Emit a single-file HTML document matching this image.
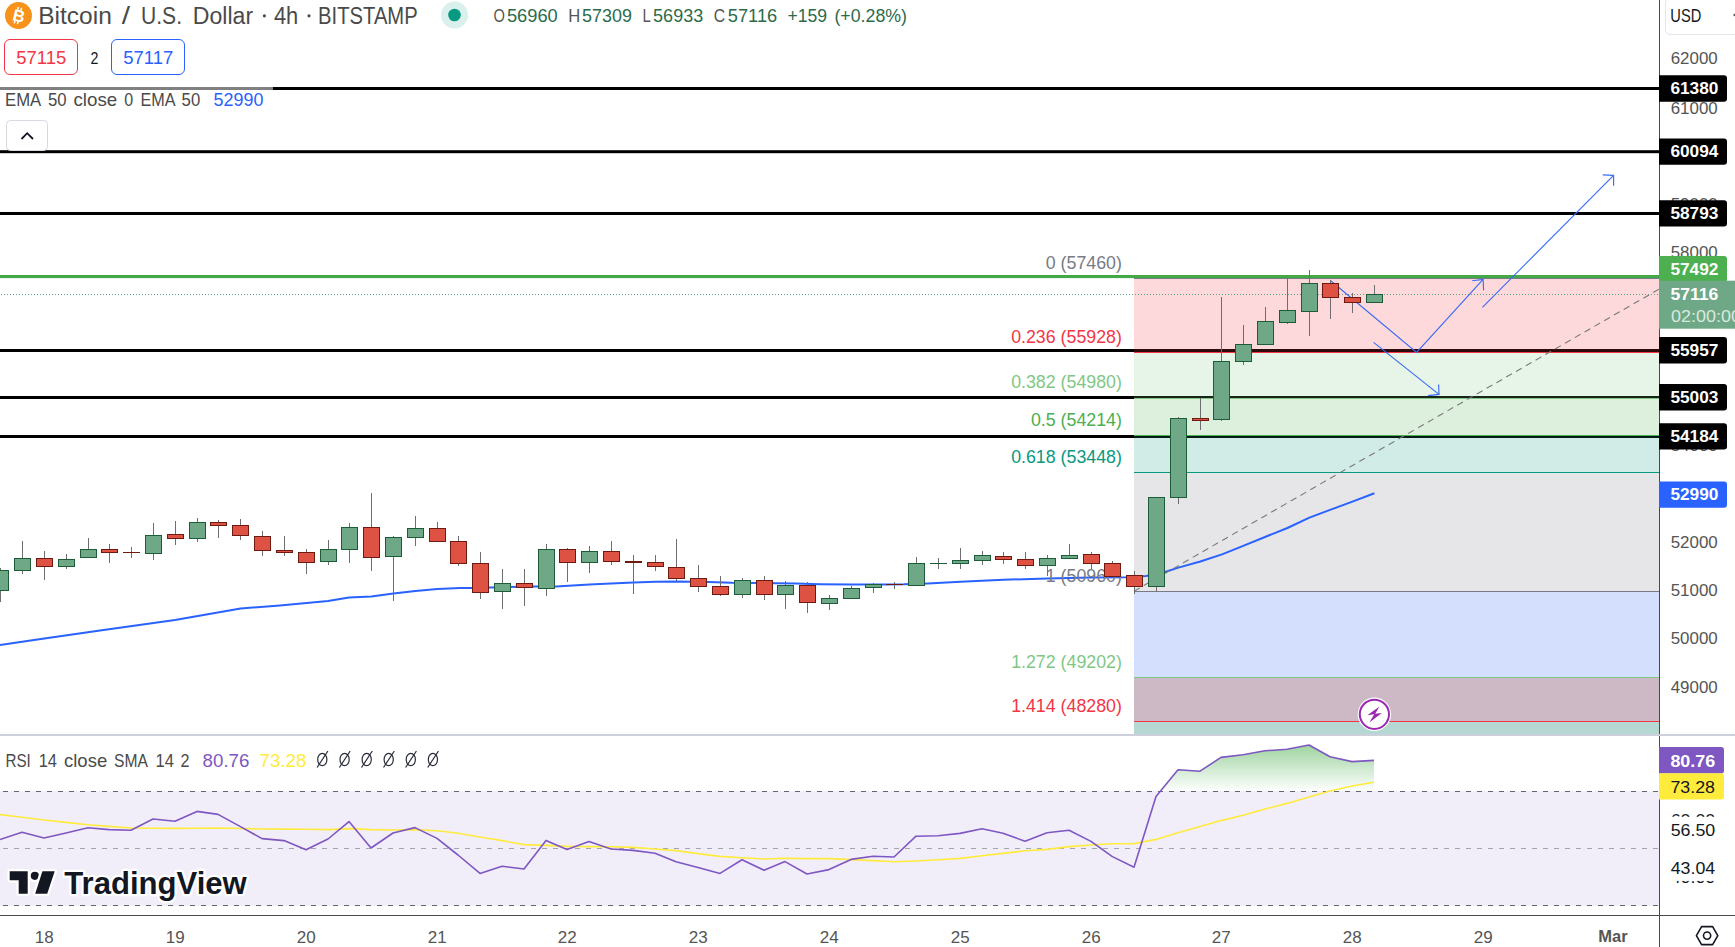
<!DOCTYPE html><html><head><meta charset="utf-8"><title>BTCUSD</title><style>html,body{margin:0;padding:0;background:#fff;overflow:hidden}body{width:1735px;height:947px;font-family:"Liberation Sans",sans-serif}</style></head><body><svg width="1735" height="947" viewBox="0 0 1735 947" style="display:block" font-family="Liberation Sans, sans-serif">
<defs><linearGradient id="ob" x1="0" y1="706" x2="0" y2="791.5" gradientUnits="userSpaceOnUse"><stop offset="0" stop-color="#4CAF50" stop-opacity="1"/><stop offset="1" stop-color="#4CAF50" stop-opacity="0"/></linearGradient>
<clipPath id="main"><rect x="0" y="0" width="1659" height="734"/></clipPath><clipPath id="rsi"><rect x="0" y="737" width="1659" height="178"/></clipPath></defs>
<rect width="1735" height="947" fill="#fff"/>
<g clip-path="url(#main)">
<rect x="0" y="87" width="1659" height="3.0" fill="#000"/>
<rect x="0" y="150.2" width="1659" height="3.0" fill="#000"/>
<rect x="0" y="212" width="1659" height="3.0" fill="#000"/>
<rect x="0" y="349" width="1659" height="3.0" fill="#000"/>
<rect x="0" y="396" width="1659" height="3.0" fill="#000"/>
<rect x="0" y="435" width="1659" height="3.0" fill="#000"/>
<rect x="0" y="275" width="1659" height="3.1" fill="#43A848"/>
<rect x="1134" y="278.5" width="525" height="74.0" fill="#F23645" fill-opacity="0.19"/>
<rect x="1134" y="352.5" width="525" height="46.0" fill="#81C784" fill-opacity="0.19"/>
<rect x="1134" y="398.5" width="525" height="37.0" fill="#4CAF50" fill-opacity="0.19"/>
<rect x="1134" y="435.5" width="525" height="37.0" fill="#089981" fill-opacity="0.19"/>
<rect x="1134" y="472.5" width="525" height="119.0" fill="#787B86" fill-opacity="0.19"/>
<rect x="1134" y="591.5" width="525" height="86.0" fill="#D3DFFD" fill-opacity="1"/>
<rect x="1134" y="677.5" width="525" height="44.0" fill="#CDB9C6" fill-opacity="1"/>
<rect x="1134" y="721.5" width="525" height="18.5" fill="#B6D8D2" fill-opacity="1"/>
<rect x="1134" y="278.0" width="525" height="1" fill="#787B86"/>
<rect x="1134" y="352.0" width="525" height="1" fill="#F23645"/>
<rect x="1134" y="398.0" width="525" height="1" fill="#81C784"/>
<rect x="1134" y="435.0" width="525" height="1" fill="#4CAF50"/>
<rect x="1134" y="472.0" width="525" height="1" fill="#089981"/>
<rect x="1134" y="591.0" width="525" height="1" fill="#787B86"/>
<rect x="1134" y="677.0" width="525" height="1" fill="#81C784"/>
<rect x="1134" y="721.0" width="525" height="1" fill="#F23645"/>
<polyline fill="none" stroke="#2962FF" stroke-width="2" stroke-linejoin="round" points="0.0,645.0 34.0,640.0 100.0,630.5 175.0,620.0 240.6,608.6 280.0,605.4 328.0,601.0 349.0,597.6 371.4,596.4 393.4,593.6 415.4,591.0 437.4,589.0 460.0,588.0 472.0,588.0 534.0,586.4 556.0,586.4 589.4,584.4 611.0,583.4 633.4,582.6 655.4,581.8 676.4,581.6 708.0,582.0 732.0,582.8 776.0,583.2 796.0,583.6 820.0,584.2 851.4,584.4 884.0,584.4 904.0,584.2 928.0,583.4 960.4,581.8 1003.4,579.8 1047.4,578.4 1091.4,577.4 1126.0,577.2 1146.0,576.0 1164.2,572.2 1178.4,567.6 1200.3,561.5 1222.0,554.4 1243.2,545.9 1265.0,537.0 1287.4,528.0 1309.4,517.6 1330.7,509.6 1352.4,501.6 1374.4,493.2"/>
<text x="1121.9" y="268.6" font-size="17.8" text-anchor="end" fill="#787B86">0 (57460)</text>
<text x="1121.9" y="342.8" font-size="17.8" text-anchor="end" fill="#F23645">0.236 (55928)</text>
<text x="1121.9" y="388.40000000000003" font-size="17.8" text-anchor="end" fill="#81C784">0.382 (54980)</text>
<text x="1121.9" y="425.70000000000005" font-size="17.8" text-anchor="end" fill="#4CAF50">0.5 (54214)</text>
<text x="1121.9" y="463.1" font-size="17.8" text-anchor="end" fill="#089981">0.618 (53448)</text>
<text x="1121.9" y="581.6" font-size="17.8" text-anchor="end" fill="#787B86">1 (50960)</text>
<text x="1121.9" y="667.6" font-size="17.8" text-anchor="end" fill="#81C784">1.272 (49202)</text>
<text x="1121.9" y="711.6" font-size="17.8" text-anchor="end" fill="#F23645">1.414 (48280)</text>
<line x1="1134" y1="591.2" x2="1676" y2="279.4" stroke="#7a7a7a" stroke-width="1.1" stroke-dasharray="6.6 4.7"/>
<line x1="1" y1="294.5" x2="1659" y2="294.5" stroke="#58A07A" stroke-width="1" stroke-dasharray="1 2"/>
<polyline fill="none" stroke="#3B6CF6" stroke-width="1.15" stroke-linejoin="miter" points="1331,281 1416.6,352.4 1483.1,279.4"/>
<polyline fill="none" stroke="#3B6CF6" stroke-width="1.15" points="1472.2,280.7 1483.1,279.4 1483.6,290.3"/>
<polyline fill="none" stroke="#3B6CF6" stroke-width="1.15" stroke-linejoin="miter" points="1373.6,342.4 1439,394.4"/>
<polyline fill="none" stroke="#3B6CF6" stroke-width="1.15" points="1428,395.6 1439,394.4 1438.6,384.4"/>
<polyline fill="none" stroke="#3B6CF6" stroke-width="1.15" stroke-linejoin="miter" points="1482.4,307.3 1613.6,175.4"/>
<polyline fill="none" stroke="#3B6CF6" stroke-width="1.15" points="1602.7,174.9 1613.6,175.4 1613.6,185.8"/>
<rect x="0" y="568" width="1" height="34" fill="#6e6e70"/>
<rect x="-7.5" y="570.5" width="16" height="20" fill="#6FA886" stroke="#1C5C38" stroke-width="1"/>
<rect x="22" y="541" width="1" height="33" fill="#6e6e70"/>
<rect x="14.5" y="558.5" width="16" height="12" fill="#6FA886" stroke="#1C5C38" stroke-width="1"/>
<rect x="44" y="551" width="1" height="29" fill="#6e6e70"/>
<rect x="36.5" y="558.5" width="16" height="8" fill="#DD5242" stroke="#6E1A10" stroke-width="1"/>
<rect x="66" y="554" width="1" height="15" fill="#6e6e70"/>
<rect x="58.5" y="559.5" width="16" height="7" fill="#6FA886" stroke="#1C5C38" stroke-width="1"/>
<rect x="88" y="538" width="1" height="20" fill="#6e6e70"/>
<rect x="80.5" y="549.5" width="16" height="8" fill="#6FA886" stroke="#1C5C38" stroke-width="1"/>
<rect x="109" y="544" width="1" height="19" fill="#6e6e70"/>
<rect x="101.5" y="549.5" width="16" height="3" fill="#DD5242" stroke="#6E1A10" stroke-width="1"/>
<rect x="131" y="547" width="1" height="11" fill="#6e6e70"/>
<rect x="123" y="552" width="17" height="1" fill="#6E1A10"/>
<rect x="153" y="523" width="1" height="37" fill="#6e6e70"/>
<rect x="145.5" y="535.5" width="16" height="18" fill="#6FA886" stroke="#1C5C38" stroke-width="1"/>
<rect x="175" y="521" width="1" height="24" fill="#6e6e70"/>
<rect x="167.5" y="534.5" width="16" height="4" fill="#DD5242" stroke="#6E1A10" stroke-width="1"/>
<rect x="197" y="518" width="1" height="24" fill="#6e6e70"/>
<rect x="189.5" y="522.5" width="16" height="16" fill="#6FA886" stroke="#1C5C38" stroke-width="1"/>
<rect x="218" y="520" width="1" height="18" fill="#6e6e70"/>
<rect x="210.5" y="522.5" width="16" height="3" fill="#DD5242" stroke="#6E1A10" stroke-width="1"/>
<rect x="240" y="519" width="1" height="21" fill="#6e6e70"/>
<rect x="232.5" y="525.5" width="16" height="10" fill="#DD5242" stroke="#6E1A10" stroke-width="1"/>
<rect x="262" y="531" width="1" height="25" fill="#6e6e70"/>
<rect x="254.5" y="536.5" width="16" height="14" fill="#DD5242" stroke="#6E1A10" stroke-width="1"/>
<rect x="284" y="536" width="1" height="20" fill="#6e6e70"/>
<rect x="276.5" y="550.5" width="16" height="2" fill="#DD5242" stroke="#6E1A10" stroke-width="1"/>
<rect x="306" y="549" width="1" height="25" fill="#6e6e70"/>
<rect x="298.5" y="552.5" width="16" height="10" fill="#DD5242" stroke="#6E1A10" stroke-width="1"/>
<rect x="328" y="540" width="1" height="25" fill="#6e6e70"/>
<rect x="320.5" y="549.5" width="16" height="12" fill="#6FA886" stroke="#1C5C38" stroke-width="1"/>
<rect x="349" y="523" width="1" height="40" fill="#6e6e70"/>
<rect x="341.5" y="527.5" width="16" height="22" fill="#6FA886" stroke="#1C5C38" stroke-width="1"/>
<rect x="371" y="493" width="1" height="78" fill="#6e6e70"/>
<rect x="363.5" y="527.5" width="16" height="30" fill="#DD5242" stroke="#6E1A10" stroke-width="1"/>
<rect x="393" y="536" width="1" height="65" fill="#6e6e70"/>
<rect x="385.5" y="537.5" width="16" height="19" fill="#6FA886" stroke="#1C5C38" stroke-width="1"/>
<rect x="415" y="516" width="1" height="30" fill="#6e6e70"/>
<rect x="407.5" y="528.5" width="16" height="9" fill="#6FA886" stroke="#1C5C38" stroke-width="1"/>
<rect x="437" y="522" width="1" height="20" fill="#6e6e70"/>
<rect x="429.5" y="528.5" width="16" height="13" fill="#DD5242" stroke="#6E1A10" stroke-width="1"/>
<rect x="458" y="536" width="1" height="30" fill="#6e6e70"/>
<rect x="450.5" y="541.5" width="16" height="22" fill="#DD5242" stroke="#6E1A10" stroke-width="1"/>
<rect x="480" y="552" width="1" height="47" fill="#6e6e70"/>
<rect x="472.5" y="563.5" width="16" height="29" fill="#DD5242" stroke="#6E1A10" stroke-width="1"/>
<rect x="502" y="569" width="1" height="40" fill="#6e6e70"/>
<rect x="494.5" y="583.5" width="16" height="8" fill="#6FA886" stroke="#1C5C38" stroke-width="1"/>
<rect x="524" y="569" width="1" height="37" fill="#6e6e70"/>
<rect x="516.5" y="583.5" width="16" height="4" fill="#DD5242" stroke="#6E1A10" stroke-width="1"/>
<rect x="546" y="544" width="1" height="52" fill="#6e6e70"/>
<rect x="538.5" y="549.5" width="16" height="39" fill="#6FA886" stroke="#1C5C38" stroke-width="1"/>
<rect x="567" y="548" width="1" height="34" fill="#6e6e70"/>
<rect x="559.5" y="549.5" width="16" height="13" fill="#DD5242" stroke="#6E1A10" stroke-width="1"/>
<rect x="589" y="546" width="1" height="27" fill="#6e6e70"/>
<rect x="581.5" y="551.5" width="16" height="11" fill="#6FA886" stroke="#1C5C38" stroke-width="1"/>
<rect x="611" y="541" width="1" height="24" fill="#6e6e70"/>
<rect x="603.5" y="551.5" width="16" height="10" fill="#DD5242" stroke="#6E1A10" stroke-width="1"/>
<rect x="633" y="555" width="1" height="39" fill="#6e6e70"/>
<rect x="625" y="561" width="17" height="2" fill="#6E1A10"/>
<rect x="655" y="555" width="1" height="16" fill="#6e6e70"/>
<rect x="647.5" y="562.5" width="16" height="4" fill="#DD5242" stroke="#6E1A10" stroke-width="1"/>
<rect x="676" y="539" width="1" height="42" fill="#6e6e70"/>
<rect x="668.5" y="567.5" width="16" height="11" fill="#DD5242" stroke="#6E1A10" stroke-width="1"/>
<rect x="698" y="565" width="1" height="27" fill="#6e6e70"/>
<rect x="690.5" y="578.5" width="16" height="8" fill="#DD5242" stroke="#6E1A10" stroke-width="1"/>
<rect x="720" y="576" width="1" height="20" fill="#6e6e70"/>
<rect x="712.5" y="586.5" width="16" height="8" fill="#DD5242" stroke="#6E1A10" stroke-width="1"/>
<rect x="742" y="578" width="1" height="20" fill="#6e6e70"/>
<rect x="734.5" y="580.5" width="16" height="14" fill="#6FA886" stroke="#1C5C38" stroke-width="1"/>
<rect x="764" y="576" width="1" height="24" fill="#6e6e70"/>
<rect x="756.5" y="580.5" width="16" height="14" fill="#DD5242" stroke="#6E1A10" stroke-width="1"/>
<rect x="785" y="581" width="1" height="28" fill="#6e6e70"/>
<rect x="777.5" y="585.5" width="16" height="9" fill="#6FA886" stroke="#1C5C38" stroke-width="1"/>
<rect x="807" y="582" width="1" height="31" fill="#6e6e70"/>
<rect x="799.5" y="585.5" width="16" height="17" fill="#DD5242" stroke="#6E1A10" stroke-width="1"/>
<rect x="829" y="595" width="1" height="15" fill="#6e6e70"/>
<rect x="821.5" y="598.5" width="16" height="5" fill="#6FA886" stroke="#1C5C38" stroke-width="1"/>
<rect x="851" y="586" width="1" height="13" fill="#6e6e70"/>
<rect x="843.5" y="588.5" width="16" height="10" fill="#6FA886" stroke="#1C5C38" stroke-width="1"/>
<rect x="873" y="583" width="1" height="10" fill="#6e6e70"/>
<rect x="865.5" y="584.5" width="16" height="3" fill="#6FA886" stroke="#1C5C38" stroke-width="1"/>
<rect x="894" y="582" width="1" height="7" fill="#6e6e70"/>
<rect x="886" y="584" width="17" height="1" fill="#6E1A10"/>
<rect x="916" y="557" width="1" height="29" fill="#6e6e70"/>
<rect x="908.5" y="563.5" width="16" height="22" fill="#6FA886" stroke="#1C5C38" stroke-width="1"/>
<rect x="938" y="558" width="1" height="11" fill="#6e6e70"/>
<rect x="930" y="563" width="17" height="1" fill="#1C5C38"/>
<rect x="960" y="548" width="1" height="21" fill="#6e6e70"/>
<rect x="952.5" y="560.5" width="16" height="3" fill="#6FA886" stroke="#1C5C38" stroke-width="1"/>
<rect x="982" y="551" width="1" height="14" fill="#6e6e70"/>
<rect x="974.5" y="555.5" width="16" height="5" fill="#6FA886" stroke="#1C5C38" stroke-width="1"/>
<rect x="1003" y="552" width="1" height="12" fill="#6e6e70"/>
<rect x="995.5" y="556.5" width="16" height="3" fill="#DD5242" stroke="#6E1A10" stroke-width="1"/>
<rect x="1025" y="552" width="1" height="17" fill="#6e6e70"/>
<rect x="1017.5" y="559.5" width="16" height="6" fill="#DD5242" stroke="#6E1A10" stroke-width="1"/>
<rect x="1047" y="555" width="1" height="21" fill="#6e6e70"/>
<rect x="1039.5" y="558.5" width="16" height="7" fill="#6FA886" stroke="#1C5C38" stroke-width="1"/>
<rect x="1069" y="544" width="1" height="15" fill="#6e6e70"/>
<rect x="1061.5" y="555.5" width="16" height="3" fill="#6FA886" stroke="#1C5C38" stroke-width="1"/>
<rect x="1091" y="552" width="1" height="17" fill="#6e6e70"/>
<rect x="1083.5" y="554.5" width="16" height="9" fill="#DD5242" stroke="#6E1A10" stroke-width="1"/>
<rect x="1112" y="561" width="1" height="16" fill="#6e6e70"/>
<rect x="1104.5" y="563.5" width="16" height="13" fill="#DD5242" stroke="#6E1A10" stroke-width="1"/>
<rect x="1134" y="571" width="1" height="23" fill="#6e6e70"/>
<rect x="1126.5" y="575.5" width="16" height="11" fill="#DD5242" stroke="#6E1A10" stroke-width="1"/>
<rect x="1156" y="497" width="1" height="95" fill="#6e6e70"/>
<rect x="1148.5" y="497.5" width="16" height="89" fill="#6FA886" stroke="#1C5C38" stroke-width="1"/>
<rect x="1178" y="417" width="1" height="87" fill="#6e6e70"/>
<rect x="1170.5" y="418.5" width="16" height="79" fill="#6FA886" stroke="#1C5C38" stroke-width="1"/>
<rect x="1200" y="398" width="1" height="32" fill="#6e6e70"/>
<rect x="1192.5" y="418.5" width="16" height="2" fill="#DD5242" stroke="#6E1A10" stroke-width="1"/>
<rect x="1221" y="297" width="1" height="124" fill="#6e6e70"/>
<rect x="1213.5" y="361.5" width="16" height="58" fill="#6FA886" stroke="#1C5C38" stroke-width="1"/>
<rect x="1243" y="325" width="1" height="40" fill="#6e6e70"/>
<rect x="1235.5" y="344.5" width="16" height="17" fill="#6FA886" stroke="#1C5C38" stroke-width="1"/>
<rect x="1265" y="307" width="1" height="38" fill="#6e6e70"/>
<rect x="1257.5" y="321.5" width="16" height="23" fill="#6FA886" stroke="#1C5C38" stroke-width="1"/>
<rect x="1287" y="278" width="1" height="46" fill="#6e6e70"/>
<rect x="1279.5" y="310.5" width="16" height="12" fill="#6FA886" stroke="#1C5C38" stroke-width="1"/>
<rect x="1309" y="270" width="1" height="66" fill="#6e6e70"/>
<rect x="1301.5" y="283.5" width="16" height="28" fill="#6FA886" stroke="#1C5C38" stroke-width="1"/>
<rect x="1330" y="280" width="1" height="39" fill="#6e6e70"/>
<rect x="1322.5" y="283.5" width="16" height="14" fill="#DD5242" stroke="#6E1A10" stroke-width="1"/>
<rect x="1352" y="293" width="1" height="20" fill="#6e6e70"/>
<rect x="1344.5" y="297.5" width="16" height="5" fill="#DD5242" stroke="#6E1A10" stroke-width="1"/>
<rect x="1374" y="285" width="1" height="18" fill="#6e6e70"/>
<rect x="1366.5" y="294.5" width="16" height="8" fill="#6FA886" stroke="#1C5C38" stroke-width="1"/>
<g transform="translate(1374.4,714.3)"><circle r="16.7" fill="#fff"/><circle r="14.6" fill="#fff" stroke="#9C27B0" stroke-width="2"/><path d="M5.1,-7.9 L-7.1,0.9 L-0.2,0.0 L-5.0,8.1 L7.4,-1.2 L0.8,-0.5 Z" fill="#9C27B0"/></g>
</g>
<rect x="0" y="86" width="273" height="24" fill="#fff" fill-opacity="0.5"/>
<circle cx="18.5" cy="15.5" r="13.5" fill="#F7931A"/>
<g transform="rotate(14 18.5 15.5)"><text x="18.9" y="21.6" font-size="16.5" font-weight="bold" fill="#fff" text-anchor="middle">B</text><path d="M16.3,7.3V10.2M19.6,7.3V10.2M16.3,21.2V24.1M19.6,21.2V24.1" stroke="#fff" stroke-width="1.5"/></g>
<text x="38.2" y="23.8" font-size="23.5" fill="#4a4a4a" textLength="73.6" lengthAdjust="spacingAndGlyphs">Bitcoin</text>
<text x="121.7" y="23.8" font-size="23.5" fill="#4a4a4a" textLength="8.3" lengthAdjust="spacingAndGlyphs">/</text>
<text x="141" y="23.8" font-size="23.5" fill="#4a4a4a" textLength="41.0" lengthAdjust="spacingAndGlyphs">U.S.</text>
<text x="192.8" y="23.8" font-size="23.5" fill="#4a4a4a" textLength="60.3" lengthAdjust="spacingAndGlyphs">Dollar</text>
<text x="273.9" y="23.8" font-size="23.5" fill="#4a4a4a" textLength="24.3" lengthAdjust="spacingAndGlyphs">4h</text>
<text x="318.1" y="23.8" font-size="23.5" fill="#4a4a4a" textLength="99.6" lengthAdjust="spacingAndGlyphs">BITSTAMP</text>
<circle cx="264.4" cy="15.8" r="1.6" fill="#4a4a4a"/><circle cx="309" cy="15.8" r="1.6" fill="#4a4a4a"/>
<circle cx="454.5" cy="15" r="13.5" fill="#D9F0EC"/><circle cx="454.5" cy="15" r="6.3" fill="#089981"/>
<text x="493.4" y="21.7" font-size="18.5" fill="#555" textLength="11.4" lengthAdjust="spacingAndGlyphs">O</text>
<text x="506.9" y="21.7" font-size="18.5" fill="#2C6B4B" textLength="50.9" lengthAdjust="spacingAndGlyphs">56960</text>
<text x="568.3" y="21.7" font-size="18.5" fill="#555" textLength="12.0" lengthAdjust="spacingAndGlyphs">H</text>
<text x="582.1" y="21.7" font-size="18.5" fill="#2C6B4B" textLength="49.8" lengthAdjust="spacingAndGlyphs">57309</text>
<text x="642.4" y="21.7" font-size="18.5" fill="#555" textLength="8.3" lengthAdjust="spacingAndGlyphs">L</text>
<text x="653.1" y="21.7" font-size="18.5" fill="#2C6B4B" textLength="50.1" lengthAdjust="spacingAndGlyphs">56933</text>
<text x="713.7" y="21.7" font-size="18.5" fill="#555" textLength="11.4" lengthAdjust="spacingAndGlyphs">C</text>
<text x="727.8" y="21.7" font-size="18.5" fill="#2C6B4B" textLength="49.4" lengthAdjust="spacingAndGlyphs">57116</text>
<text x="787.4" y="21.7" font-size="18.5" fill="#2C6B4B" textLength="39.6" lengthAdjust="spacingAndGlyphs">+159</text>
<text x="834.4" y="21.7" font-size="18.5" fill="#2C6B4B" textLength="72.6" lengthAdjust="spacingAndGlyphs">(+0.28%)</text>
<rect x="4.5" y="39.5" width="73" height="35" rx="5.5" fill="#fff" stroke="#F23645" stroke-width="1"/>
<text x="16.3" y="63.9" font-size="18.5" fill="#F23645" textLength="49.9" lengthAdjust="spacingAndGlyphs">57115</text>
<text x="90.6" y="63.6" font-size="16.5" fill="#131722" textLength="7.9" lengthAdjust="spacingAndGlyphs">2</text>
<rect x="111.5" y="39.5" width="73" height="35" rx="5.5" fill="#fff" stroke="#2962FF" stroke-width="1"/>
<text x="123.2" y="63.9" font-size="18.5" fill="#2962FF" textLength="50.0" lengthAdjust="spacingAndGlyphs">57117</text>
<text x="5" y="105.9" font-size="18.5" fill="#4a4a4a" textLength="36.2" lengthAdjust="spacingAndGlyphs">EMA</text>
<text x="48" y="105.9" font-size="18.5" fill="#4a4a4a" textLength="18.6" lengthAdjust="spacingAndGlyphs">50</text>
<text x="73.5" y="105.9" font-size="18.5" fill="#4a4a4a" textLength="43.7" lengthAdjust="spacingAndGlyphs">close</text>
<text x="124.2" y="105.9" font-size="18.5" fill="#4a4a4a" textLength="8.9" lengthAdjust="spacingAndGlyphs">0</text>
<text x="140.4" y="105.9" font-size="18.5" fill="#4a4a4a" textLength="35.1" lengthAdjust="spacingAndGlyphs">EMA</text>
<text x="181.6" y="105.9" font-size="18.5" fill="#4a4a4a" textLength="18.6" lengthAdjust="spacingAndGlyphs">50</text>
<text x="213.6" y="105.9" font-size="18.5" fill="#2962FF" textLength="49.8" lengthAdjust="spacingAndGlyphs">52990</text>
<rect x="6.5" y="120.5" width="41" height="30" rx="4" fill="#fff" stroke="#D6D9E0" stroke-width="1"/>
<polyline points="21.5,139 27.2,133.2 33,139" fill="none" stroke="#131722" stroke-width="1.8"/>
<g clip-path="url(#rsi)">
<rect x="0" y="791" width="1659" height="115" fill="#F1EEFA"/>
<line x1="3" y1="791.5" x2="1659" y2="791.5" stroke="#64666f" stroke-width="1" stroke-dasharray="5 6"/>
<line x1="3" y1="848.5" x2="1659" y2="848.5" stroke="#a3a5ad" stroke-width="1" stroke-dasharray="5 6"/>
<line x1="3" y1="905.5" x2="1659" y2="905.5" stroke="#64666f" stroke-width="1" stroke-dasharray="5 6"/>
<polygon fill="url(#ob)" points="1160.2,791.5 1178.0,769.8 1200.0,771.2 1221.0,757.4 1243.0,754.8 1265.0,750.8 1287.0,749.2 1309.0,745.0 1330.0,756.8 1352.0,761.6 1374.0,760.4 1374.0,791.5"/>
<polyline fill="none" stroke="#FFEB3B" stroke-width="1.6" stroke-linejoin="round" points="0.0,814.6 22.0,817.3 44.0,820.0 66.0,822.4 88.0,824.8 109.0,826.4 131.0,828.0 153.0,828.2 175.0,828.4 197.0,828.2 218.0,828.0 240.0,828.5 262.0,829.0 284.0,829.1 306.0,829.2 328.0,829.6 349.0,828.6 371.0,829.6 393.0,830.0 415.0,829.6 437.0,830.8 458.0,833.2 480.0,837.0 502.0,840.6 524.0,844.6 546.0,845.4 567.0,846.4 589.0,846.6 611.0,846.8 633.0,847.4 655.0,849.0 676.0,850.6 698.0,853.6 720.0,856.4 742.0,857.8 764.0,859.0 785.0,858.2 807.0,858.6 829.0,858.6 851.0,859.6 873.0,860.6 894.0,861.8 916.0,861.0 938.0,859.8 960.0,858.4 982.0,855.8 1003.0,853.4 1025.0,850.8 1047.0,849.4 1069.0,846.6 1091.0,845.0 1112.0,843.8 1134.0,843.6 1156.0,839.4 1178.0,832.8 1200.0,826.6 1221.0,820.6 1243.0,815.2 1265.0,809.0 1287.0,803.4 1309.0,797.0 1330.0,791.0 1352.0,786.0 1374.0,782.3"/>
<polyline fill="none" stroke="#7E57C2" stroke-width="1.6" stroke-linejoin="round" points="0.0,839.6 22.0,832.2 44.0,838.0 66.0,833.0 88.0,827.8 109.0,829.6 131.0,830.2 153.0,819.0 175.0,821.2 197.0,811.4 218.0,814.4 240.0,826.4 262.0,838.6 284.0,840.6 306.0,849.8 328.0,839.0 349.0,821.6 371.0,848.0 393.0,833.0 415.0,827.6 437.0,838.4 458.0,855.0 480.0,873.4 502.0,866.2 524.0,869.0 546.0,840.4 567.0,849.6 589.0,841.6 611.0,849.0 633.0,850.4 655.0,853.2 676.0,861.8 698.0,867.6 720.0,873.4 742.0,859.8 764.0,870.2 785.0,861.6 807.0,874.0 829.0,869.6 851.0,859.4 873.0,856.2 894.0,857.0 916.0,836.2 938.0,835.8 960.0,833.4 982.0,828.8 1003.0,833.2 1025.0,841.3 1047.0,832.8 1069.0,830.2 1091.0,841.4 1112.0,856.4 1134.0,867.2 1156.0,796.6 1178.0,769.8 1200.0,771.2 1221.0,757.4 1243.0,754.8 1265.0,750.8 1287.0,749.2 1309.0,745.0 1330.0,756.8 1352.0,761.6 1374.0,760.4"/>
</g>
<text x="5.5" y="766.8" font-size="19" fill="#4a4a4a" textLength="25.3" lengthAdjust="spacingAndGlyphs">RSI</text>
<text x="38.7" y="766.8" font-size="19" fill="#4a4a4a" textLength="18.3" lengthAdjust="spacingAndGlyphs">14</text>
<text x="64" y="766.8" font-size="19" fill="#4a4a4a" textLength="43.2" lengthAdjust="spacingAndGlyphs">close</text>
<text x="114.1" y="766.8" font-size="19" fill="#4a4a4a" textLength="33.9" lengthAdjust="spacingAndGlyphs">SMA</text>
<text x="155.6" y="766.8" font-size="19" fill="#4a4a4a" textLength="18.4" lengthAdjust="spacingAndGlyphs">14</text>
<text x="180.5" y="766.8" font-size="19" fill="#4a4a4a" textLength="9.0" lengthAdjust="spacingAndGlyphs">2</text>
<text x="202.6" y="766.8" font-size="19" fill="#7E57C2" textLength="46.8" lengthAdjust="spacingAndGlyphs">80.76</text>
<text x="259.6" y="766.8" font-size="19" fill="#FFEB3B" textLength="46.8" lengthAdjust="spacingAndGlyphs">73.28</text>
<g stroke="#2a2e39" stroke-width="1.2" fill="none"><ellipse cx="322.3" cy="759.5" rx="4.6" ry="6.1"/><line x1="317.1" y1="767.5" x2="327.90000000000003" y2="751"/></g>
<g stroke="#2a2e39" stroke-width="1.2" fill="none"><ellipse cx="344.6" cy="759.5" rx="4.6" ry="6.1"/><line x1="339.40000000000003" y1="767.5" x2="350.20000000000005" y2="751"/></g>
<g stroke="#2a2e39" stroke-width="1.2" fill="none"><ellipse cx="366.7" cy="759.5" rx="4.6" ry="6.1"/><line x1="361.5" y1="767.5" x2="372.3" y2="751"/></g>
<g stroke="#2a2e39" stroke-width="1.2" fill="none"><ellipse cx="388.7" cy="759.5" rx="4.6" ry="6.1"/><line x1="383.5" y1="767.5" x2="394.3" y2="751"/></g>
<g stroke="#2a2e39" stroke-width="1.2" fill="none"><ellipse cx="410.8" cy="759.5" rx="4.6" ry="6.1"/><line x1="405.6" y1="767.5" x2="416.40000000000003" y2="751"/></g>
<g stroke="#2a2e39" stroke-width="1.2" fill="none"><ellipse cx="432.9" cy="759.5" rx="4.6" ry="6.1"/><line x1="427.7" y1="767.5" x2="438.5" y2="751"/></g>
<g transform="translate(10,871.3)"><g fill="#131722" stroke="#fff" stroke-width="4.6" paint-order="stroke" stroke-linejoin="round"><path d="M-0.3,0 H17.7 V22.5 H8.7 V9 H-0.3 Z"/><circle cx="24.85" cy="4.5" r="4.1"/><path d="M32.4,0 H44.7 L37.2,22.5 H25.2 Z"/><text x="54.3" y="22.5" font-size="31.4" font-weight="bold" textLength="182.5" lengthAdjust="spacingAndGlyphs" stroke="#fff" stroke-width="4.6" stroke-linejoin="round" style="paint-order:stroke fill">TradingView</text></g></g>
<rect x="1660" y="0" width="75" height="915" fill="#fff"/>
<text x="1670.7" y="692.5" font-size="17" fill="#555" textLength="47" lengthAdjust="spacingAndGlyphs">49000</text>
<text x="1670.7" y="644.2" font-size="17" fill="#555" textLength="47" lengthAdjust="spacingAndGlyphs">50000</text>
<text x="1670.7" y="595.9" font-size="17" fill="#555" textLength="47" lengthAdjust="spacingAndGlyphs">51000</text>
<text x="1670.7" y="547.6" font-size="17" fill="#555" textLength="47" lengthAdjust="spacingAndGlyphs">52000</text>
<text x="1670.7" y="499.3" font-size="17" fill="#555" textLength="47" lengthAdjust="spacingAndGlyphs">53000</text>
<text x="1670.7" y="451.0" font-size="17" fill="#555" textLength="47" lengthAdjust="spacingAndGlyphs">54000</text>
<text x="1670.7" y="402.7" font-size="17" fill="#555" textLength="47" lengthAdjust="spacingAndGlyphs">55000</text>
<text x="1670.7" y="354.4" font-size="17" fill="#555" textLength="47" lengthAdjust="spacingAndGlyphs">56000</text>
<text x="1670.7" y="306.1" font-size="17" fill="#555" textLength="47" lengthAdjust="spacingAndGlyphs">57000</text>
<text x="1670.7" y="257.8" font-size="17" fill="#555" textLength="47" lengthAdjust="spacingAndGlyphs">58000</text>
<text x="1670.7" y="209.5" font-size="17" fill="#555" textLength="47" lengthAdjust="spacingAndGlyphs">59000</text>
<text x="1670.7" y="161.2" font-size="17" fill="#555" textLength="47" lengthAdjust="spacingAndGlyphs">60000</text>
<text x="1670.7" y="113.7" font-size="17" fill="#555" textLength="47" lengthAdjust="spacingAndGlyphs">61000</text>
<text x="1670.7" y="64.1" font-size="17" fill="#555" textLength="47" lengthAdjust="spacingAndGlyphs">62000</text>
<text x="1670.7" y="768.8" font-size="17" fill="#131722" textLength="44.6" lengthAdjust="spacingAndGlyphs">80.00</text>
<text x="1670.7" y="825.7" font-size="17" fill="#131722" textLength="44.6" lengthAdjust="spacingAndGlyphs">60.00</text>
<text x="1670.7" y="882.6" font-size="17" fill="#131722" textLength="44.6" lengthAdjust="spacingAndGlyphs">40.00</text>
<rect x="1659" y="0" width="1" height="947" fill="#4a4a4a"/>
<rect x="1665.5" y="-1.5" width="80" height="36" rx="4.5" fill="#fff" stroke="#E2E5EE" stroke-width="1"/>
<rect x="1733.6" y="13.8" width="1.4" height="2.3" fill="#555"/>
<text x="1670.3" y="21.6" font-size="17.6" fill="#131722" textLength="31" lengthAdjust="spacingAndGlyphs">USD</text>
<path d="M1659,75.3 H1724 a3,3 0 0 1 3,3 V98.7 a3,3 0 0 1 -3,3 H1659 Z" fill="#000"/>
<text x="1670.4" y="93.9" font-size="17" font-weight="bold" fill="#fff" textLength="48" lengthAdjust="spacingAndGlyphs">61380</text>
<path d="M1659,138.4 H1724 a3,3 0 0 1 3,3 V161.8 a3,3 0 0 1 -3,3 H1659 Z" fill="#000"/>
<text x="1670.4" y="157.0" font-size="17" font-weight="bold" fill="#fff" textLength="48" lengthAdjust="spacingAndGlyphs">60094</text>
<path d="M1659,200.2 H1724 a3,3 0 0 1 3,3 V223.6 a3,3 0 0 1 -3,3 H1659 Z" fill="#000"/>
<text x="1670.4" y="218.8" font-size="17" font-weight="bold" fill="#fff" textLength="48" lengthAdjust="spacingAndGlyphs">58793</text>
<path d="M1659,256.0 H1724 a3,3 0 0 1 3,3 V279.4 a3,3 0 0 1 -3,3 H1659 Z" fill="#4CAF50"/>
<text x="1670.4" y="274.6" font-size="17" font-weight="bold" fill="#fff" textLength="48" lengthAdjust="spacingAndGlyphs">57492</text>
<path d="M1659,337.1 H1724 a3,3 0 0 1 3,3 V360.5 a3,3 0 0 1 -3,3 H1659 Z" fill="#000"/>
<text x="1670.4" y="355.7" font-size="17" font-weight="bold" fill="#fff" textLength="48" lengthAdjust="spacingAndGlyphs">55957</text>
<path d="M1659,384.0 H1724 a3,3 0 0 1 3,3 V407.4 a3,3 0 0 1 -3,3 H1659 Z" fill="#000"/>
<text x="1670.4" y="402.6" font-size="17" font-weight="bold" fill="#fff" textLength="48" lengthAdjust="spacingAndGlyphs">55003</text>
<path d="M1659,423.2 H1724 a3,3 0 0 1 3,3 V446.6 a3,3 0 0 1 -3,3 H1659 Z" fill="#000"/>
<text x="1670.4" y="441.8" font-size="17" font-weight="bold" fill="#fff" textLength="48" lengthAdjust="spacingAndGlyphs">54184</text>
<path d="M1659,481.4 H1724 a3,3 0 0 1 3,3 V504.8 a3,3 0 0 1 -3,3 H1659 Z" fill="#2962FF"/>
<text x="1670.4" y="500.0" font-size="17" font-weight="bold" fill="#fff" textLength="48" lengthAdjust="spacingAndGlyphs">52990</text>
<rect x="1659" y="280.7" width="76" height="48" fill="#6FA886"/>
<text x="1670.4" y="300.4" font-size="17" font-weight="bold" fill="#fff" textLength="48" lengthAdjust="spacingAndGlyphs">57116</text>
<text x="1671" y="321.8" font-size="17" fill="#D9E8DF" textLength="70" lengthAdjust="spacingAndGlyphs">02:00:00</text>
<path d="M1659,747.0 H1721 a3,3 0 0 1 3,3 V770.4 a3,3 0 0 1 -3,3 H1659 Z" fill="#7E57C2"/>
<text x="1670.4" y="767.0" font-size="17" font-weight="bold" fill="#fff" textLength="44.8" lengthAdjust="spacingAndGlyphs">80.76</text>
<path d="M1659,773.2 H1721 a3,3 0 0 1 3,3 V796.6 a3,3 0 0 1 -3,3 H1659 Z" fill="#FFEB3B"/>
<text x="1670.4" y="792.5" font-size="17" fill="#131722" textLength="44.6" lengthAdjust="spacingAndGlyphs">73.28</text>
<rect x="1660" y="816.8" width="75" height="26" fill="#fff"/>
<text x="1670.7" y="835.5" font-size="17" fill="#131722" textLength="44.6" lengthAdjust="spacingAndGlyphs">56.50</text>
<rect x="1660" y="854.9" width="75" height="26" fill="#fff"/>
<text x="1670.7" y="873.6" font-size="17" fill="#131722" textLength="44.6" lengthAdjust="spacingAndGlyphs">43.04</text>
<rect x="0" y="734" width="1735" height="2" fill="#CDD0DB"/>
<rect x="0" y="916" width="1735" height="31" fill="#fff"/>
<rect x="0" y="915" width="1735" height="1" fill="#4a4a4a"/>
<rect x="1659" y="915" width="1" height="32" fill="#4a4a4a"/>
<text x="44.2" y="942.8" font-size="17" fill="#555" text-anchor="middle">18</text>
<text x="175.2" y="942.8" font-size="17" fill="#555" text-anchor="middle">19</text>
<text x="306.2" y="942.8" font-size="17" fill="#555" text-anchor="middle">20</text>
<text x="437.2" y="942.8" font-size="17" fill="#555" text-anchor="middle">21</text>
<text x="567.2" y="942.8" font-size="17" fill="#555" text-anchor="middle">22</text>
<text x="698.2" y="942.8" font-size="17" fill="#555" text-anchor="middle">23</text>
<text x="829.2" y="942.8" font-size="17" fill="#555" text-anchor="middle">24</text>
<text x="960.2" y="942.8" font-size="17" fill="#555" text-anchor="middle">25</text>
<text x="1091.2" y="942.8" font-size="17" fill="#555" text-anchor="middle">26</text>
<text x="1221.2" y="942.8" font-size="17" fill="#555" text-anchor="middle">27</text>
<text x="1352.2" y="942.8" font-size="17" fill="#555" text-anchor="middle">28</text>
<text x="1483.2" y="942.8" font-size="17" fill="#555" text-anchor="middle">29</text>
<text x="1613.0" y="942.2" font-size="16.5" font-weight="bold" fill="#555" text-anchor="middle">Mar</text>
<g fill="none" stroke="#131722" stroke-width="1.6" stroke-linejoin="round"><polygon points="1696.4,935.6 1701.6,926.6 1712.6,926.6 1717.8,935.6 1712.6,944.6 1701.6,944.6"/><circle cx="1707.1" cy="935.6" r="3.6"/></g>
</svg></body></html>
